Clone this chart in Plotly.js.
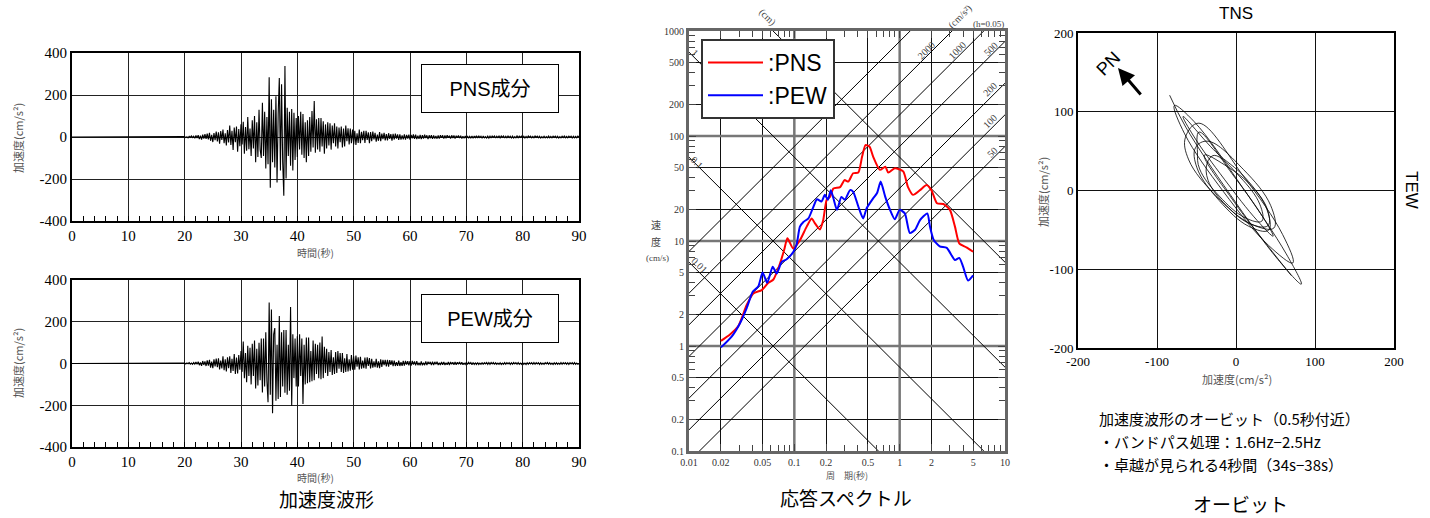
<!DOCTYPE html>
<html><head><meta charset="utf-8">
<script src="https://cdn.plot.ly/plotly-3.0.1.min.js"></script>
<style>body{margin:0;background:#fff}#chart{width:1430px;height:518px}</style>
</head><body><div id="chart"></div>
<script>
// ---------------- DATA ----------------
// Acceleration waveforms (cm/s^2), sampled every waveStep seconds from waveStart; quiet (0) before
const waveStart = 20;
const waveStep = 0.2;
const pnsAccel = [
 2,-3,1,-4,3,-2,5,-3,4,-6,
 7,-5,9,-10,6,-12,11,-8,14,-9,
 16,-12,20,-18,10,-24,19,-15,26,-21,
 22,-32,28,-14,35,-30,18,-40,33,-26,
 55,-38,30,-62,45,-25,50,-70,38,-44,
 60,-35,72,-80,48,-65,95,-58,40,-90,
 80,-55,100,-120,70,-95,130,-60,-100,163,
 -90,120,-150,95,-130,284,-242,180,-120,130,
 -145,194,-217,110,281,-160,251,-120,-280,338,
 -198,139,-90,120,-137,133,-160,115,-110,90,
 -95,100,-60,120,-85,110,-100,70,-120,80,
 -90,95,-70,124,-50,171,-75,85,-60,90,
 -70,90,-45,75,-80,60,-55,70,-40,65,
 -60,55,-30,65,-45,50,-55,45,-25,50,
 -50,40,-45,55,-20,42,-35,40,-30,35,
 -35,30,-38,18,-28,35,-30,25,-15,30,
 -28,30,-14,22,-30,24,-20,26,-12,20,
 -22,12,-18,24,-20,16,-10,20,-16,14,
 -16,18,-9,14,-17,15,-12,16,-8,12,
 -14,12,-13,8,-11,12,-13,10,-7,11,
 -12,10,-6,12,-9,11,-10,6,-9,10,
 -10,9,-8,11,-5,8,-10,8,-6,9,
 -9,8,-7,5,-8,7,-8,9,-4,8,
 -8,7,-6,8,-4,6,-7,8,-5,7,
 -7,6,-3,7,-5,6,-7,4,-6,5,
 -6,5,-6,3,-5,5,-6,5,-3,6,
 -5,6,-3,4,-6,5,-4,2,-5,4,
 -5,4,-5,6,-2,5,-5,4,-3,5,
 -4,5,-2,5,-5,4,-4,5,-3,4,
 -5,4,-5,2,-4,5,-4,4,-2,4,
 -4,4,-5,3,-4,5,-2,4,-4,3,
 -4,5,-2,4,-4,4,-5,2,-4,4,
 -4,2,-4,5,-4,3,-4,4,-2,4,
 -4,4,-5,2,-4,4,-3,5,-4,3,
 -4,4,-2,4,-5,4,-4,3,-4,4,
 0];
const pewAccel = [
 2,-2,3,-1,4,-3,2,-4,5,-3,
 7,-4,9,-8,5,-11,12,-7,10,-12,
 15,-10,18,-20,9,-22,20,-14,24,-18,
 25,-28,14,-24,35,-32,20,-38,30,-22,
 35,-45,22,-36,45,-50,28,-48,40,-30,
 60,-40,105,-70,50,-90,85,-60,75,-100,
 95,-60,110,-120,70,-105,99,-80,120,-139,
 120,-110,150,-85,-185,292,-150,259,-238,140,
 170,-178,90,-170,228,-160,150,-110,160,-140,
 161,-150,90,-130,271,-202,140,-70,120,-110,
 130,-110,140,-60,120,-194,90,-100,124,-95,
 124,-90,60,-85,110,-80,95,-50,90,-70,
 100,-75,129,-70,80,-45,70,-60,55,-40,
 65,-55,30,-50,55,-45,60,-25,50,-40,
 50,-45,25,-40,45,-38,20,-35,40,-30,
 35,-30,38,-15,30,-28,32,-25,14,-22,
 28,-25,30,-12,26,-24,22,-20,10,-18,
 22,-20,10,-22,20,-16,18,-8,17,-14,
 18,-15,16,-7,15,-13,14,-12,6,-11,
 14,-12,6,-11,12,-10,13,-5,11,-9,
 11,-10,12,-5,10,-9,11,-8,4,-9,
 10,-9,4,-8,10,-8,9,-3,8,-7,
 9,-8,8,-4,9,-7,3,-7,8,-6,
 8,-7,3,-6,8,-7,7,-3,6,-6,
 7,-6,6,-3,7,-5,6,-6,2,-5,
 6,-5,6,-2,5,-6,5,-5,3,-5,
 5,-5,2,-4,5,-5,4,-2,5,-4,
 5,-4,5,-2,5,-5,4,-4,2,-4,
 4,-5,2,-4,5,-4,4,-2,4,-5,
 4,-4,5,-2,4,-4,5,-4,2,-4,
 4,-4,2,-5,4,-4,4,-2,4,-4,
 5,-4,4,-2,4,-5,4,-4,2,-4,
 4,-2,5,-4,4,-4,2,-5,4,-4,
 4,-4,2,-4,5,-4,4,-2,4,-4,
 4,-5,4,-2,4,-4,5,-4,2,-4,
 0];
const pnsPeakTime = [37.8];
const pnsPeakValue = [338];
const pewPeakTime = [35.0];
const pewPeakValue = [292];
const waveXTicks = [0,10,20,30,40,50,60,70,80,90];
const waveYTicks = [-400,-200,0,200,400];
const waveYTickText = ['-400','-200','0','200','400'];

// Response spectra (h=0.05): period (s) vs velocity (cm/s)
const periodPNS = [0.0201,0.0245,0.0294,0.0353,0.0408,0.049,0.0566,0.0633,0.0731,0.08,0.086,0.0975,0.112,0.131,0.146,0.157,0.175,0.188,0.203,0.218,0.235,0.272,0.30,0.325,0.362,0.405,0.44,0.474,0.518,0.56,0.65,0.73,0.78,0.9,1.08,1.2,1.34,1.56,1.8,2.0,2.26,2.6,3.0,3.35,3.68,4.3,4.98];
const velPNS = [1.12,1.29,1.55,2.46,3.17,3.41,4.0,4.3,6.1,8.2,10.6,8.5,10.0,13.7,16.4,14.7,12.9,15.8,24.7,26.3,31.6,32.6,38,36.8,44.2,44.8,63.7,82,79,63.7,47.6,51,44.8,49.4,46,32.6,27.5,30.5,34.2,30.5,22.9,22.5,19.8,13.7,9.5,8.7,7.9];
const periodPEW = [0.0201,0.0254,0.0305,0.0353,0.0404,0.0455,0.050,0.0553,0.0623,0.068,0.0757,0.0846,0.098,0.105,0.113,0.122,0.136,0.15,0.164,0.181,0.195,0.208,0.222,0.235,0.254,0.28,0.302,0.338,0.362,0.405,0.45,0.487,0.56,0.61,0.66,0.73,0.81,0.9,1.0,1.12,1.25,1.4,1.56,1.83,1.94,2.1,2.4,2.8,3.35,3.68,4.0,4.46,4.98];
const velPEW = [0.97,1.23,1.65,2.3,3.3,3.7,5.0,4.0,5.7,4.9,6.3,6.7,7.9,9.2,13.7,15.2,16.4,20.6,25,23.8,27.5,24.7,30.5,25.5,19.8,26.3,24.7,30.5,29.4,21.3,16.4,20.6,25.5,28.6,36.8,26.3,19.8,16.1,19.8,18.3,11.9,12.8,15.8,18.3,13.7,10.3,8.9,8.6,6.6,6.9,5.7,4.2,4.7];
const specXTicks = [0.01,0.02,0.05,0.1,0.2,0.5,1,2,5,10];
const specXTickText = ['0.01','0.02','0.05','0.1','0.2','0.5','1','2','5','10'];
const specYTicks = [0.1,0.2,0.5,1,2,5,10,20,50,100,200,500,1000];
const specYTickText = ['0.1','0.2','0.5','1','2','5','10','20','50','100','200','500','1000'];
const specDecadesX = [0.1,1];
const specDecadesY = [1,10,100];
const dispLevels = [0.01,0.1,1,10];           // cm
const accelLevels = [50,100,200,500,1000,2000,5000]; // cm/s^2

// Orbit (band-passed 1.6-2.5Hz, 34s-38s): EW vs NS acceleration (cm/s^2)
const orbitEW = [-84,-63.6,-7.4,53.2,82.7,63.6,7.4,-53.2,
 -78,-65,-15.8,41,72,59,9.8,-47,
 -64,-59.8,-25.3,19.4,48,43.8,9.3,-35.4,
 -51.2,-49.4,-21.5,16,41.2,39.4,11.5,-26,
 -67,-53.7,-14.8,26.9,47,33.7,-5.2,-46.9,
 -48.8,-46.1,-21.1,11.5,32.8,30.1,5.1,-27.5,
 -36.5,-35.4,-12.4,19,40.5,39.4,16.4,-15,-40,-2,40,70];
const orbitNS = [121,80.5,-5.1,-87.7,-118.9,-80.5,5.1,87.7,
 108,71.9,-1.6,-69.5,-92,-55.9,17.6,85.5,
 67.6,38.8,-6.8,-42.6,-47.6,-18.8,26.8,62.6,
 54.5,28.8,-12.5,-45.4,-50.5,-24.8,16.5,49.4,
 94,69.2,14.4,-38.2,-58,-33.2,21.6,74.2,
 48.8,27.4,-7.2,-34.6,-38.8,-17.4,17.2,44.6,
 34.6,13.1,-19,-42.9,-44.6,-23.1,9,32.9,45,-15,-70,-108];
const orbitTicks = [-200,-100,0,100,200];
const orbitTickText = ['-200','-100','0','100','200'];

// ---------------- BUILD ----------------
const W = 1430, H = 518;
const px = v => v / W, py = v => 1 - v / H;
const SERIF = 'Liberation Serif, DejaVu Serif, serif';
const SANS = 'Liberation Sans, Noto Sans CJK JP, sans-serif';
const CJK = 'Noto Sans CJK JP, Liberation Sans, sans-serif';

const pnsTime = [0].concat(pnsAccel.map((_, i) => waveStart + i * waveStep));
const pewTime = [0].concat(pewAccel.map((_, i) => waveStart + i * waveStep));

const traces = [];
traces.push({x: pnsTime, y: [0].concat(pnsAccel), xaxis:'x', yaxis:'y', mode:'lines',
  line:{color:'#000', width:1.1}, showlegend:false, hoverinfo:'skip'});
traces.push({x: pewTime, y: [0].concat(pewAccel), xaxis:'x2', yaxis:'y2', mode:'lines',
  line:{color:'#000', width:1.1}, showlegend:false, hoverinfo:'skip'});
// peak markers (drawn just above the frame)
traces.push({x: pnsPeakTime, y: pnsPeakTime.map(() => 447), text: pnsPeakValue.map(String),
  xaxis:'x', yaxis:'y', mode:'markers+text', textposition:'middle right', cliponaxis:false,
  marker:{symbol:'triangle-down', size:14, color:'#8a8a8a', line:{color:'#333', width:1}},
  textfont:{family:SERIF, size:15, color:'#000'}, showlegend:false});
traces.push({x: pewPeakTime, y: pewPeakTime.map(() => 442), text: pewPeakValue.map(String),
  xaxis:'x2', yaxis:'y2', mode:'markers+text', textposition:'middle right', cliponaxis:false,
  marker:{symbol:'triangle-down', size:14, color:'#8a8a8a', line:{color:'#333', width:1}},
  textfont:{family:SERIF, size:15, color:'#000'}, showlegend:false});

// spectrum: decade grid (grey, thick)
specDecadesX.forEach(d => traces.push({x:[d,d], y:[0.1,1000], xaxis:'x3', yaxis:'y3', mode:'lines',
  line:{color:'#777', width:2.5}, showlegend:false, hoverinfo:'skip'}));
specDecadesY.forEach(d => traces.push({x:[0.01,10], y:[d,d], xaxis:'x3', yaxis:'y3', mode:'lines',
  line:{color:'#777', width:2.5}, showlegend:false, hoverinfo:'skip'}));
// tripartite guide lines
dispLevels.forEach(D => traces.push({x:[0.01,10], y:[2*Math.PI*D/0.01, 2*Math.PI*D/10],
  xaxis:'x3', yaxis:'y3', mode:'lines', line:{color:'#000', width:1}, showlegend:false, hoverinfo:'skip'}));
accelLevels.forEach(A => traces.push({x:[0.01,10], y:[A*0.01/(2*Math.PI), A*10/(2*Math.PI)],
  xaxis:'x3', yaxis:'y3', mode:'lines', line:{color:'#000', width:1}, showlegend:false, hoverinfo:'skip'}));
traces.push({x: periodPNS, y: velPNS, xaxis:'x3', yaxis:'y3', mode:'lines', name:':PNS',
  line:{color:'#ff0000', width:2, shape:'spline', smoothing:0.6}, showlegend:true});
traces.push({x: periodPEW, y: velPEW, xaxis:'x3', yaxis:'y3', mode:'lines', name:':PEW',
  line:{color:'#0000ff', width:2, shape:'spline', smoothing:0.6}, showlegend:true});

// orbit
traces.push({x: orbitEW, y: orbitNS, xaxis:'x4', yaxis:'y4', mode:'lines',
  line:{color:'#000', width:0.8, shape:'spline', smoothing:1.1}, showlegend:false, hoverinfo:'skip'});

function minorLog(decs){ const v=[]; decs.forEach(d=>[3,4,6,7,8,9].forEach(m=>v.push(d*m))); return v; }

const waveX = (dom) => ({
  domain: dom, range:[0,90], tickvals: waveXTicks, ticktext: waveXTicks.map(String),
  showgrid:true, gridcolor:'#222', gridwidth:1, zeroline:false,
  showline:true, linecolor:'#000', linewidth:2, mirror:true,
  ticks:'inside', ticklen:5, tickcolor:'#000',
  minor:{dtick:2, ticks:'inside', ticklen:5, tickcolor:'#000', showgrid:false},
  tickfont:{family:SERIF, size:15, color:'#000'}, fixedrange:true
});
const waveY = (dom) => ({
  domain: dom, range:[-400,400], tickvals: waveYTicks, ticktext: waveYTickText,
  showgrid:true, gridcolor:'#222', gridwidth:1, zeroline:false,
  showline:true, linecolor:'#000', linewidth:2, mirror:true, ticks:'',
  tickfont:{family:SERIF, size:15, color:'#000'}, fixedrange:true
});

const layout = {
  width: W, height: H, margin:{l:0,r:0,t:0,b:0}, paper_bgcolor:'#fff', plot_bgcolor:'#fff',
  showlegend:true,
  legend:{x:px(701), y:py(39), xanchor:'left', yanchor:'top', bgcolor:'#fff',
    bordercolor:'#333', borderwidth:2, font:{family:SANS, size:23, color:'#000'},
    itemwidth:55, tracegroupgap:0},
  xaxis: Object.assign(waveX([px(72), px(579)]), {anchor:'y'}),
  yaxis: Object.assign(waveY([py(221), py(53)]), {anchor:'x'}),
  xaxis2: Object.assign(waveX([px(72), px(579)]), {anchor:'y2'}),
  yaxis2: Object.assign(waveY([py(447), py(280)]), {anchor:'x2'}),
  xaxis3: {domain:[px(689), px(1005)], anchor:'y3', type:'log', range:[-2,1],
    tickvals: specXTicks, ticktext: specXTickText, showgrid:true, gridcolor:'#111', gridwidth:1,
    showline:true, linecolor:'#666', linewidth:3, mirror:'allticks', ticks:'inside', ticklen:7, tickcolor:'#444',
    minor:{tickmode:'array', tickvals: minorLog([0.01,0.1,1]), ticks:'inside', ticklen:6, tickcolor:'#444', showgrid:false},
    tickfont:{family:SERIF, size:10, color:'#333'}, zeroline:false, fixedrange:true},
  yaxis3: {domain:[py(451), py(31)], anchor:'x3', type:'log', range:[-1,3],
    tickvals: specYTicks, ticktext: specYTickText, showgrid:true, gridcolor:'#111', gridwidth:1,
    showline:true, linecolor:'#666', linewidth:3, mirror:'allticks', ticks:'inside', ticklen:7, tickcolor:'#444',
    minor:{tickmode:'array', tickvals: minorLog([0.1,1,10,100]), ticks:'inside', ticklen:6, tickcolor:'#444', showgrid:false},
    tickfont:{family:SERIF, size:10, color:'#333'}, zeroline:false, fixedrange:true},
  xaxis4: {domain:[px(1078), px(1394)], anchor:'y4', range:[-200,200], tickvals: orbitTicks, ticktext: orbitTickText,
    showgrid:true, gridcolor:'#111', gridwidth:1, zeroline:false, showline:true, linecolor:'#000', linewidth:2, mirror:true,
    ticks:'', tickfont:{family:SERIF, size:13, color:'#000'}, fixedrange:true},
  yaxis4: {domain:[py(348), py(33)], anchor:'x4', range:[-200,200], tickvals: orbitTicks, ticktext: orbitTickText,
    showgrid:true, gridcolor:'#111', gridwidth:1, zeroline:false, showline:true, linecolor:'#000', linewidth:2, mirror:true,
    ticks:'', tickfont:{family:SERIF, size:13, color:'#000'}, fixedrange:true},
  annotations: [],
};

const A = layout.annotations;
function txt(x, y, text, opts){ A.push(Object.assign({xref:'paper', yref:'paper', x:px(x), y:py(y), text:text,
  showarrow:false, xanchor:'center', yanchor:'middle'}, opts)); }

// waveform axis titles and component boxes
txt(315, 252, '時間(秒)', {font:{family:CJK, size:10, color:'#555'}});
txt(315, 477, '時間(秒)', {font:{family:CJK, size:10, color:'#555'}});
txt(18, 138, '加速度(cm/s²)', {textangle:-90, font:{family:CJK, size:11, color:'#555'}});
txt(18, 363, '加速度(cm/s²)', {textangle:-90, font:{family:CJK, size:11, color:'#555'}});
txt(490, 88.5, 'PNS成分', {font:{family:SANS, size:20, color:'#000'}, bgcolor:'#fff', bordercolor:'#000',
  borderwidth:1, borderpad:0, width:136, height:47});
txt(490, 318, 'PEW成分', {font:{family:SANS, size:20, color:'#000'}, bgcolor:'#fff', bordercolor:'#000',
  borderwidth:1, borderpad:0, width:136, height:47});
txt(326, 498, '加速度波形', {font:{family:CJK, size:19, color:'#000'}});

// spectrum labels
const lab = {family:SERIF, size:10, color:'#444'};
txt(767, 17, '(cm)', {textangle:45, font:lab});
txt(960, 17, '(cm/s²)', {textangle:-45, font:lab});
txt(988, 24, '(h=0.05)', {font:{family:SERIF, size:9, color:'#444'}});
txt(926, 50, '2000', {textangle:-45, font:lab});
txt(957, 50, '1000', {textangle:-45, font:lab});
txt(990, 49, '500', {textangle:-45, font:lab});
txt(990, 90, '200', {textangle:-45, font:lab});
txt(990, 122, '100', {textangle:-45, font:lab});
txt(992, 152, '50', {textangle:-45, font:lab});
txt(695, 52, '1', {textangle:45, font:lab});
txt(697, 162, '0.1', {textangle:45, font:lab});
txt(700, 265, '0.01', {textangle:45, font:lab});
txt(656, 224, '速', {font:{family:CJK, size:10, color:'#444'}});
txt(656, 241, '度', {font:{family:CJK, size:10, color:'#444'}});
txt(657, 258, '(cm/s)', {font:{family:SERIF, size:9, color:'#444'}});
txt(847, 475, '周　期(秒)', {font:{family:CJK, size:9, color:'#555'}});
txt(846, 497, '応答スペクトル', {font:{family:CJK, size:19, color:'#000'}});

// orbit labels
txt(1236, 14, 'TNS', {font:{family:SANS, size:17, color:'#000'}});
txt(1411, 190, 'TEW', {textangle:90, font:{family:SANS, size:17, color:'#000'}});
txt(1108, 64, 'PN', {textangle:-45, font:{family:SANS, size:18, color:'#000'}});
A.push({xref:'paper', yref:'paper', x:px(1118), y:py(68), ax:24, ay:28, text:'', showarrow:true,
  arrowhead:2, arrowsize:1.1, arrowwidth:3, arrowcolor:'#000'});
txt(1237, 379, '加速度(cm/s²)', {font:{family:CJK, size:11, color:'#555'}});
txt(1043, 192, '加速度(cm/s²)', {textangle:-90, font:{family:CJK, size:11, color:'#555'}});
const note = {family:CJK, size:15, color:'#000'};
txt(1097, 418, '加速度波形のオービット（0.5秒付近）', {xanchor:'left', font:note});
txt(1097, 441, '・バンドパス処理：1.6Hz−2.5Hz', {xanchor:'left', font:note});
txt(1097, 464, '・卓越が見られる4秒間（34s−38s）', {xanchor:'left', font:note});
txt(1240, 503, 'オービット', {font:{family:CJK, size:19, color:'#000'}});

Plotly.newPlot('chart', traces, layout, {staticPlot:true, displayModeBar:false});
</script></body></html>
